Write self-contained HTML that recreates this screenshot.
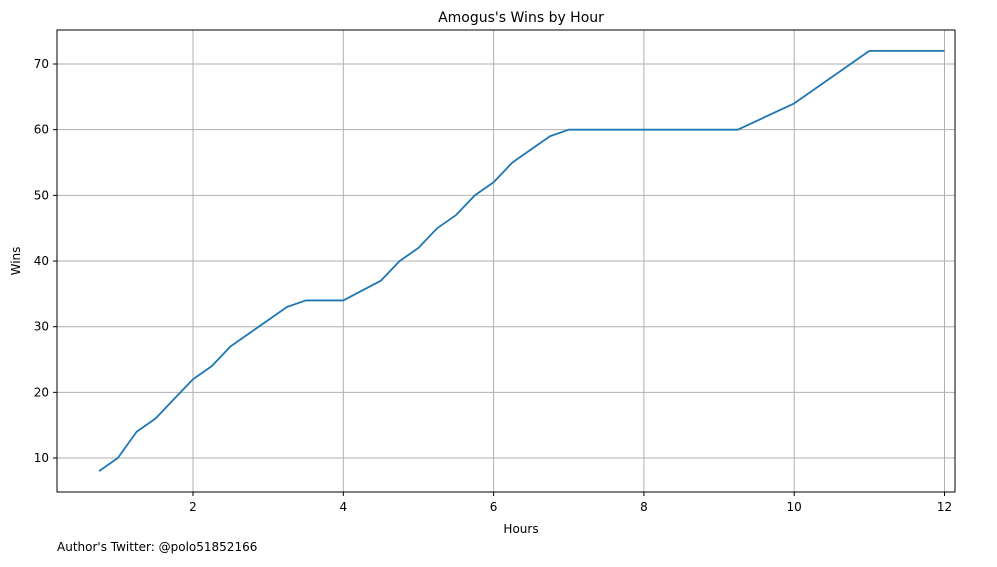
<!DOCTYPE html>
<html><head><meta charset="utf-8"><style>
body{margin:0;background:#fff;font-family:"Liberation Sans","DejaVu Sans",sans-serif}
svg text{font-family:"DejaVu Sans","Liberation Sans",sans-serif;fill:#000}
</style></head><body>
<svg id="chart" width="997" height="562">
<g id="grid"></g><g id="axes"></g><g id="series"></g>
<rect x="57" y="30" width="898" height="462" fill="none" stroke="#000" stroke-width="1"/>
<text x="521" y="22" text-anchor="middle" font-size="14">Amogus's Wins by Hour</text>
<text x="521" y="533" text-anchor="middle" font-size="12">Hours</text>
<text x="20" y="261" text-anchor="middle" font-size="12" transform="rotate(-90 20 261)">Wins</text>
<text x="57" y="551" font-size="12">Author's Twitter: @polo51852166</text>
</svg>
<script>
const hours=[0.75,1,1.25,1.5,1.75,2,2.25,2.5,2.75,3,3.25,3.5,3.75,4,4.25,4.5,4.75,5,5.25,5.5,5.75,6,6.25,6.5,6.75,7,7.25,7.5,8,8.5,9,9.25,10,11,11.5,12];
const wins=[8,10,14,16,19,22,24,27,29,31,33,34,34,34,35.5,37,40,42,45,47,50,52,55,57,59,60,60,60,60,60,60,60,64,72,72,72];
const xTicks=[2,4,6,8,10,12];
const yTicks=[10,20,30,40,50,60,70];
const ns="http://www.w3.org/2000/svg";
function xs(v){return 42.7+v*75.15;}
function ys(v){return 523.7-v*6.567;}
const grid=document.getElementById('grid'),axes=document.getElementById('axes'),series=document.getElementById('series');
function mk(t,a,p){const e=document.createElementNS(ns,t);for(const k in a)e.setAttribute(k,a[k]);p.appendChild(e);return e;}
xTicks.forEach(v=>{const x=xs(v);
const g=mk('line',{x1:x,x2:x,y1:30,y2:492,stroke:'#b0b0b0','stroke-width':1},grid);


const t=mk('line',{x1:x,x2:x,y1:492,y2:496,stroke:'#000'},axes);


const l=mk('text',{x:x,y:511,'text-anchor':'middle','font-size':12},axes);l.textContent=v;

});
yTicks.forEach(v=>{const y=ys(v);
const g=mk('line',{x1:57,x2:955,y1:y,y2:y,stroke:'#b0b0b0','stroke-width':1},grid);


const t=mk('line',{x1:53,x2:57,y1:y,y2:y,stroke:'#000'},axes);


const l=mk('text',{x:49,y:y+4,'text-anchor':'end','font-size':12},axes);l.textContent=v;

});
const pts=hours.map((h,i)=>xs(h)+','+ys(wins[i])).join(' ');
const pl=mk('polyline',{points:pts,fill:'none',stroke:'#1f77b4','stroke-width':1.8,'stroke-linejoin':'round'},series);


</script>
</body></html>
